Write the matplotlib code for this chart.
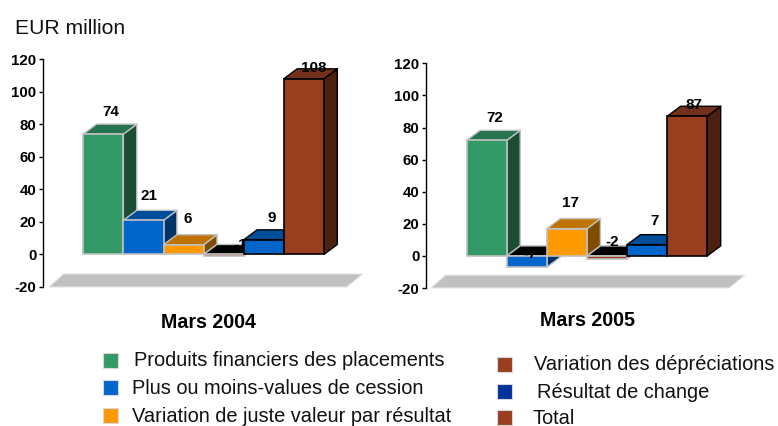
import matplotlib
matplotlib.use("Agg")
import matplotlib.pyplot as plt
from matplotlib.patches import Polygon, Rectangle

plt.rcParams['font.family'] = ['Liberation Sans', 'DejaVu Sans']
plt.rcParams['axes.unicode_minus'] = False

W, H = 778, 426

categories = ["Produits financiers des placements", "Plus ou moins-values de cession",
              "Variation de juste valeur par résultat", "Variation des dépréciations",
              "Résultat de change", "Total"]
values_2004 = [74, 21, 6, -1, 9, 108]
values_2005 = [72, -7, 17, -2, 7, 87]
period_2004 = "Mars 2004"
period_2005 = "Mars 2005"
yticks = [-20, 0, 20, 40, 60, 80, 100, 120]

front = ["#339966", "#0066CC", "#FF9900", "#993E1F", "#0066CC", "#993E1F"]
top = ["#267350", "#004D99", "#BF7300", "#73301A", "#004D99", "#73301A"]
side = ["#1A4D33", "#003366", "#804D00", "#4D2010", "#003366", "#4D2010"]
legend_colors = ["#339966", "#0066CC", "#FF9900", "#993E1F", "#003399", "#993E1F"]
GRAY, BLACK = "#C0C0C0", "#000000"
edges_2004 = [GRAY, GRAY, GRAY, GRAY, BLACK, BLACK]
edges_2005 = [GRAY, GRAY, GRAY, GRAY, BLACK, BLACK]
# label offsets from the bar's front-top centre, in pixels (dx, dy up)
offs_2004 = [(7, 22.5), (6, 24), (4, 25.5), (17, 11), (8, 21.5), (10, 11)]
offs_2005 = [(8, 22.5), (3.5, 13), (3, 25.5), (5.5, 17), (7, 23.5), (7, 11)]

fig = plt.figure(figsize=(W / 100, H / 100), dpi=100)


def chart(vals, edges, offs, xaxis, xbar, ytop, y0, ybot, floor):
    xr = W - 5
    ax = fig.add_axes([xaxis / W, 1 - ybot / H, (xr - xaxis) / W, (ybot - ytop) / H])
    bw = 40.1
    ppu = (ybot - ytop) / 140
    ax.set_xlim((xaxis - xbar) / bw, (xr - xbar) / bw)
    ax.set_ylim(-20, 120)
    ax.patch.set_alpha(0)
    for s in ("top", "right", "bottom"):
        ax.spines[s].set_visible(False)
    ax.spines["left"].set_linewidth(1.0)
    ax.set_xticks([])
    ax.set_yticks(yticks)
    ax.tick_params(axis="y", length=3, width=1, pad=2)
    for t in ax.get_yticklabels():
        t.set_fontsize(10.8)
        t.set_fontweight("bold")
    dx, dy = 13.4 / bw, 10 / ppu
    # floor
    fl, fr = (floor[0] - xbar) / bw, (floor[1] - xbar) / bw
    ax.add_patch(Polygon([(fl, -20), (fr, -20), (fr + 16 / bw, -12), (fl + 14.5 / bw, -12)],
                         closed=True, fc="#C0C0C0", ec="#E4E4E4", lw=0.8, zorder=0.5,
                         clip_on=False))
    for i, v in enumerate(vals):
        z = 1 + i
        hi = max(v, 0)
        lo = min(v, 0)
        ec = edges[i]
        ax.add_patch(Polygon([(i + 1, lo), (i + 1 + dx, lo + dy), (i + 1 + dx, hi + dy), (i + 1, hi)],
                             closed=True, fc=side[i], ec=ec, lw=1, zorder=z, joinstyle="round"))
        ax.add_patch(Polygon([(i, hi), (i + dx, hi + dy), (i + 1 + dx, hi + dy), (i + 1, hi)],
                             closed=True, fc=(top[i] if v >= 0 else "#000000"),
                             ec=ec if v >= 0 else GRAY, lw=1, zorder=z, joinstyle="round"))
        ax.bar(i + 0.5, v, width=1, color=front[i], edgecolor=ec, linewidth=1.2, zorder=z)
        ax.annotate(str(v), xy=(i + 0.5, v), xytext=(offs[i][0] * 0.72, offs[i][1] * 0.72),
                    textcoords="offset points", ha="center", va="center", fontsize=11,
                    fontweight="bold", color="black", zorder=z + 0.5)
    return ax


chart(values_2004, edges_2004, offs_2004, 43.3, 83.3, 59.3, 254.3, 287, (49, 346.7))
chart(values_2005, edges_2005, offs_2005, 426.3, 466.7, 63.3, 256, 288, (431, 729))

ov = fig.add_axes([0, 0, 1, 1], zorder=-1)
ov.set_xlim(0, W)
ov.set_ylim(H, 0)
ov.axis("off")

ov.text(15, 28, "EUR million", fontsize=15.2, va="center", ha="left", color="#111111")
ov.text(208, 322, period_2004, fontsize=14.1, fontweight="bold", va="center", ha="center")
ov.text(588, 321, period_2005, fontsize=14.1, fontweight="bold", va="center", ha="center")

leg = [(103, 360, 134, 361), (103, 387, 132, 389), (103, 415, 132, 417),
       (497, 364, 534, 365), (497, 391, 537, 393), (497, 417, 533, 418)]
for c, col, (sx, sy, tx, ty) in zip(categories, legend_colors, leg):
    ov.add_patch(Rectangle((sx, sy - 7.5), 15, 15, fc=col, ec="#D8D8D8", lw=0.8))
    ov.text(tx, ty, c, fontsize=14.4, va="center", ha="left", color="#111111")

fig.savefig("out.png", dpi=100)
